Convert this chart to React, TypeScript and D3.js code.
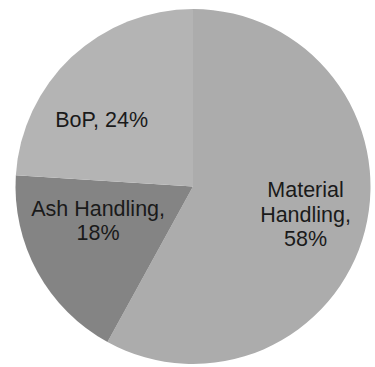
import React from "react";
import * as d3 from "d3";

const categories = ["Material Handling", "Ash Handling", "BoP"];
const shares = [58, 18, 24];
const labelLines = [["Material", "Handling,", "58%"], ["Ash Handling,", "18%"], ["BoP, 24%"]];
const colors = ["#acacac", "#848484", "#b4b4b4"];

const W = 375, H = 367;
const cx = 193, cy = 186.5, R = 177.5;
// label placement: polar (angle deg clockwise from top, distance) for visual match
const labelPolar: [number, number][] = [[104, 116], [250, 101], [306, 113]];

export default function App() {
  const pie = d3.pie<number>().sort(null).value((d) => d);
  const arcs = pie(shares);
  const arc = d3.arc<d3.PieArcDatum<number>>().innerRadius(0).outerRadius(R);
  const lh = 24.5;
  return (
    <svg width={W} height={H} style={{ position: "absolute", left: 0, top: 0, background: "#fff" }}>
      <g transform={`translate(${cx},${cy})`}>
        {arcs.map((a, i) => (
          <path key={categories[i]} d={arc(a) || ""} fill={colors[i]} />
        ))}
        {arcs.map((a, i) => {
          const [ang, dist] = labelPolar[i];
          const rad = (ang * Math.PI) / 180;
          const x = dist * Math.sin(rad);
          const y = -dist * Math.cos(rad);
          const lines = labelLines[i];
          const y0 = y - ((lines.length - 1) * lh) / 2 + 7;
          return (
            <text key={"l" + i} x={x} y={y0} textAnchor="middle"
              fontFamily="Liberation Sans, Arial, sans-serif" fontSize={21.5} fill="#1a1a1a">
              {lines.map((t, j) => (
                <tspan key={j} x={x} y={y0 + j * lh}>{t}</tspan>
              ))}
            </text>
          );
        })}
      </g>
    </svg>
  );
}
